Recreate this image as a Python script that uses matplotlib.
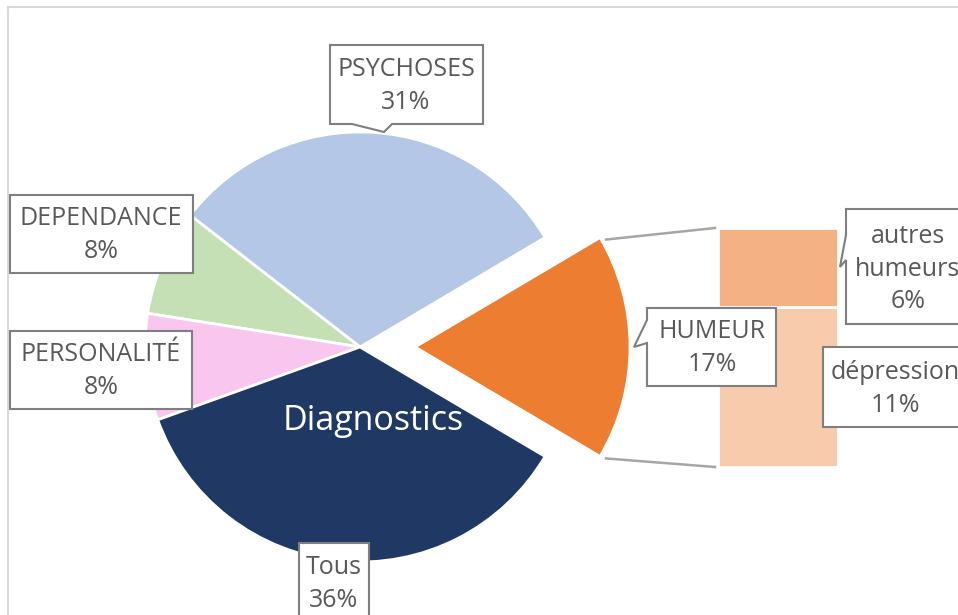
import matplotlib
matplotlib.use("Agg")
import matplotlib.pyplot as plt
import matplotlib.patches as patches
import numpy as np

plt.rcParams['font.family'] = ['Open Sans', 'DejaVu Sans']

# donnees
categories = ["HUMEUR", "PSYCHOSES", "DEPENDANCE", "PERSONALITÉ", "Tous"]
valeurs = [17, 31, 8, 8, 36]
couleurs = ["#ED7D31", "#B4C7E7", "#C5E0B4", "#F9C6F0", "#203864"]

sous_categories = ["dépression", "autres humeurs"]
sous_valeurs = [11.4, 5.6]
sous_couleurs = ["#F8CBAD", "#F4B183"]

W, H = 958, 615
def Y(y):
    return H - y

fig = plt.figure(figsize=(W / 100, H / 100), dpi=100)

# --- barre (detail humeur) ---
bx0, by_top, bw, bh = 718, 228, 120, 239
axb = fig.add_axes([bx0 / W, Y(by_top + bh) / H, bw / W, bh / H])
axb.set_zorder(1)
bas = 0
for v, c in zip(sous_valeurs, sous_couleurs):
    axb.bar(0, v, bottom=bas, width=1, color=c, edgecolor="white", linewidth=2)
    bas += v
axb.set_xlim(-0.5, 0.5)
axb.set_ylim(0, sum(sous_valeurs))
axb.axis("off")

ax = fig.add_axes([0, 0, 1, 1])
ax.set_zorder(2)

# --- camembert principal ---
centre = (360, Y(347))
rayon = 215
total = sum(valeurs)
debut = -valeurs[0] / total * 180
explode = [55, 0, 0, 0, 0]
wedges, _ = ax.pie(valeurs, colors=couleurs, startangle=debut, counterclock=True,
                   radius=rayon, center=centre, explode=explode,
                   wedgeprops=dict(edgecolor="white", linewidth=2))

ax.text(373, Y(421), "Diagnostics", color="white", fontsize=24.5,
        ha="center", va="center", zorder=6)

# lignes de liaison
w0 = wedges[0]
cx, cy = w0.center
for ang, yb in [(w0.theta2, by_top), (w0.theta1, by_top + bh)]:
    px = cx + rayon * np.cos(np.radians(ang))
    py = cy + rayon * np.sin(np.radians(ang))
    ax.plot([px + 6, bx0 - 3], [py - 2, Y(yb)], color="#A6A6A6", lw=1.8, zorder=3)

# --- etiquettes (boites en coordonnees image) ---
def boite(x0, y0, x1, y1, cote=None, a=None, b=None, pointe=None):
    pts = [(x0, y0), (x1, y0), (x1, y1)]
    if cote == "bas":
        pts += [(b, y1), pointe, (a, y1)]
    pts += [(x0, y1)]
    if cote == "gauche":
        pts += [(x0, b), pointe, (x0, a)]
    pts = [(x, Y(y)) for x, y in pts]
    ax.add_patch(patches.Polygon(pts, closed=True, facecolor="white",
                                 edgecolor="#7F7F7F", lw=1.5, zorder=5))

etiquettes = [
    (categories[1] + "\n%d%%" % valeurs[1], (406, 86), (330, 45, 483, 124, "bas", 352, 392, (384, 132))),
    (categories[2] + "\n%d%%" % valeurs[2], (101, 235), (10, 195, 193, 273, None, None, None, None)),
    (categories[3] + "\n%d%%" % valeurs[3], (101, 371), (10, 331, 192, 409, None, None, None, None)),
    (categories[4] + "\n%d%%" % valeurs[4], (334, 584), (299, 543, 369, 640, None, None, None, None)),
    (categories[0] + "\n%d%%" % valeurs[0], (712, 348), (647, 308, 776, 386, "gauche", 320, 343, (634, 347))),
    (sous_categories[1].replace(" ", "\n") + "\n%d%%" % round(sous_valeurs[1]), (908, 269),
     (846, 209, 970, 324, "gauche", 235, 260, (840, 267))),
    (sous_categories[0] + "\n%d%%" % round(sous_valeurs[0]), (895, 389), (823, 347, 970, 427, None, None, None, None)),
]
for txt, (tx, ty), b in etiquettes:
    boite(*b)
    ax.text(tx, Y(ty), txt, ha="center", va="center", fontsize=18, color="#595959",
            linespacing=1.4, zorder=6)

# cadre du graphique
ax.plot([8, 8], [Y(7), 0], color="#D9D9D9", lw=1.5, zorder=1)
ax.plot([8, W], [Y(7), Y(7)], color="#D9D9D9", lw=1.5, zorder=1)

ax.set_xlim(0, W)
ax.set_ylim(0, H)
ax.set_aspect("auto")
ax.axis("off")

fig.savefig("out.png", dpi=100)
